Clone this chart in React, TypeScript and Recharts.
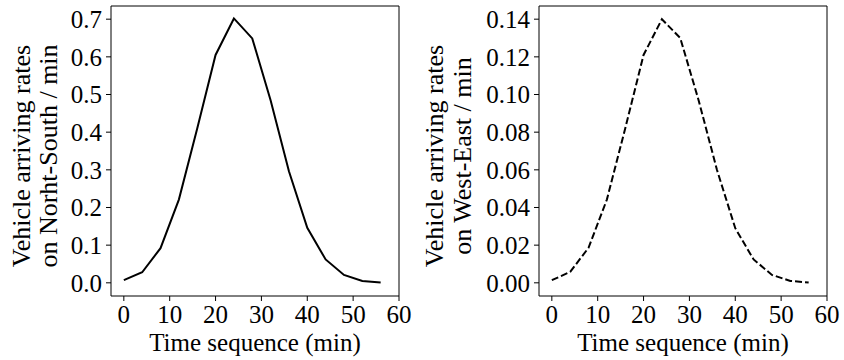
import React from "react";
import { LineChart, Line, XAxis, YAxis, ReferenceArea } from "recharts";

const minutes = [0, 4, 8, 12, 16, 20, 24, 28, 32, 36, 40, 44, 48, 52, 56];
const northSouth = [0.007, 0.028, 0.092, 0.221, 0.41, 0.605, 0.702, 0.649, 0.485, 0.296, 0.146, 0.062, 0.021, 0.005, 0.001];
const westEast = [0.0014, 0.0058, 0.0186, 0.0442, 0.082, 0.121, 0.14, 0.13, 0.097, 0.06, 0.029, 0.0124, 0.0042, 0.001, 0.0002];

const xTicks = [0, 10, 20, 30, 40, 50, 60];
const nsTicks = [0, 0.1, 0.2, 0.3, 0.4, 0.5, 0.6, 0.7];
const weTicks = [0, 0.02, 0.04, 0.06, 0.08, 0.1, 0.12, 0.14];

const nsLabel = ["Vehicle arriving rates", "on Norht-South / min"];
const weLabel = ["Vehicle arriving rates", "on West-East / min"];
const xLabel = "Time sequence (min)";

const data = minutes.map((t, i) => ({ t, ns: northSouth[i], we: westEast[i] }));

const FONT = "'Liberation Serif', 'Times New Roman', serif";
const TICK_FS = 25;
const LABEL_FS = 26;

type PanelProps = {
    left: number;
    width: number;
    yWidth: number;
    rightMargin: number;
    dataKey: string;
    yTicks: number[];
    yDomain: [number, number];
    digits: number;
    dash?: string;
    labelLines: string[];
    labelX: [number, number];
};

const Panel = ({ left, width, yWidth, rightMargin, dataKey, yTicks, yDomain, digits, dash, labelLines, labelX }: PanelProps) => {
    const top = 6;
    const height = 360;
    const xAxisHeight = 64;
    const plotLeft = yWidth;
    const plotRight = width - rightMargin;
    const labelMidY = 156;
    const tickStyle = { fill: "#000", fontSize: TICK_FS, fontFamily: FONT };

    return (
        <div style={{ position: "absolute", left, top: 0 }}>
            <LineChart width={width} height={height} data={data} margin={{ top, right: rightMargin, left: 0, bottom: 0 }}>
                <XAxis
                    dataKey="t"
                    type="number"
                    domain={[-2.8, 60]}
                    allowDataOverflow
                    ticks={xTicks}
                    interval={0}
                    height={xAxisHeight}
                    axisLine={false}
                    tickSize={5}
                    tickMargin={4}
                    tickLine={{ stroke: "#000", strokeWidth: 1 }}
                    tick={tickStyle}
                    label={{
                        content: () => (
                            <text x={(plotLeft + plotRight) / 2} y={351} textAnchor="middle" fontSize={TICK_FS} fontFamily={FONT} fill="#000">
                                {xLabel}
                            </text>
                        ),
                    }}
                />
                <YAxis
                    type="number"
                    domain={yDomain}
                    allowDataOverflow
                    ticks={yTicks}
                    interval={0}
                    width={yWidth}
                    axisLine={false}
                    tickSize={5}
                    tickMargin={4}
                    tickLine={{ stroke: "#000", strokeWidth: 1 }}
                    tick={tickStyle}
                    tickFormatter={(v: number) => v.toFixed(digits)}
                    label={{
                        content: () => (
                            <g fontSize={LABEL_FS} fontFamily={FONT} fill="#000">
                                {labelLines.map((line, i) => (
                                    <text
                                        key={line}
                                        x={labelX[i]}
                                        y={labelMidY}
                                        textAnchor="middle"
                                        transform={`rotate(-90 ${labelX[i]} ${labelMidY})`}
                                    >
                                        {line}
                                    </text>
                                ))}
                            </g>
                        ),
                    }}
                />
                <ReferenceArea
                    x1={-2.8}
                    x2={60}
                    y1={yDomain[0]}
                    y2={yDomain[1]}
                    fill="none"
                    stroke="#000"
                    strokeWidth={1}
                    ifOverflow="visible"
                />
                <Line
                    type="linear"
                    dataKey={dataKey}
                    stroke="#000"
                    strokeWidth={2}
                    strokeDasharray={dash}
                    dot={false}
                    isAnimationActive={false}
                />
            </LineChart>
        </div>
    );
};

export default function App() {
    return (
        <div style={{ position: "absolute", left: 0, top: 0, width: 844, height: 360, background: "#fff" }}>
            <Panel
                left={0}
                width={420}
                yWidth={111}
                rightMargin={21}
                dataKey="ns"
                yTicks={nsTicks}
                yDomain={[-0.035, 0.735]}
                digits={1}
                labelLines={nsLabel}
                labelX={[30, 57]}
            />
            <Panel
                left={420}
                width={424}
                yWidth={119}
                rightMargin={17}
                dataKey="we"
                yTicks={weTicks}
                yDomain={[-0.007, 0.147]}
                digits={2}
                dash="7 3"
                labelLines={weLabel}
                labelX={[23, 51]}
            />
        </div>
    );
}
